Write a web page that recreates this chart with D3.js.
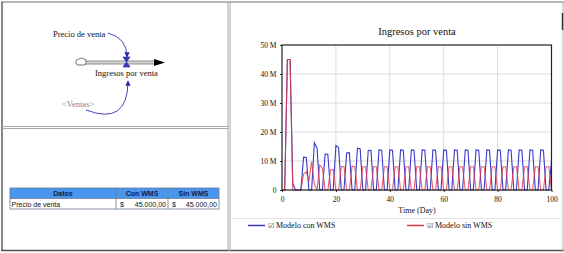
<!DOCTYPE html>
<html><head><meta charset="utf-8">
<script src="https://cdn.jsdelivr.net/npm/d3@7"></script>
<style>body{margin:0;background:#fff}svg{display:block}</style>
</head><body>
<svg id="c" width="564" height="253"></svg>
<script>
const days = d3.range(0, 101);
const conWMS = [0,0,45,45,2.3,0,0,0,11.3,11.2,0,0,16.3,14.4,0,0,12.4,12.3,0,0,
15.3,14.6,0,0,12.8,12.9,0,0,14.4,14.2,0,0,13.6,13.7,0,0,13.8,13.7,0,0,
13.8,13.7,0,0,13.8,13.7,0,0,13.8,13.7,0,0,13.8,13.7,0,0,13.8,13.7,0,0,
13.8,13.7,0,0,13.8,13.7,0,0,13.8,13.7,0,0,13.8,13.7,0,0,13.8,13.7,0,0,
13.8,13.7,0,0,13.8,13.7,0,0,13.8,13.7,0,0,13.8,13.7,0,0,13.8,13.7,0,0,10];
const sinWMS = [0,0,45,45,0,0,0,0,5.5,6.3,3,9.8,2,0,8.6,7.5,0,0,6.9,7,
0,0,8,8.1,0,0,8.2,8,0,0,8,8,0,0,8,8,0,0,8,8,
0,0,8,8,0,0,8,8,0,0,8,8,0,0,8,8,0,0,8,8,
0,0,8,8,0,0,8,8,0,0,8,8,0,0,8,8,0,0,8,8,
0,0,8,8,0,0,8,8,0,0,8,8,0,0,8,8,0,0,8,8,0];
const yTicks = [0,10,20,30,40,50];
const xTicks = [0,20,40,60,80,100];
const tableHeader = ["Datos","Con WMS","Sin WMS"];
const tableRow = ["Precio de venta","45.000,00","45.000,00"];
const seriesNames = ["Modelo con WMS","Modelo sin WMS"];
const seriesColors = ["#3a3ac8","#e8364a"];

const svg = d3.select("#c");
const serif = "'Liberation Serif', 'Times New Roman', serif";
const sans = "'Liberation Sans', Arial, sans-serif";

// frames
svg.append("line").attr("x1",1).attr("x2",564).attr("y1",2).attr("y2",2).attr("stroke","#a0a0a0").attr("stroke-width",1.5);
svg.append("line").attr("x1",2).attr("x2",2).attr("y1",2).attr("y2",251).attr("stroke","#606060").attr("stroke-width",1.5);
svg.append("line").attr("x1",1).attr("x2",564).attr("y1",250.5).attr("y2",250.5).attr("stroke","#505050").attr("stroke-width",1.5);
svg.append("line").attr("x1",563).attr("x2",563).attr("y1",2).attr("y2",251).attr("stroke","#b0b0b0").attr("stroke-width",1);
svg.append("line").attr("x1",562.5).attr("x2",562.5).attr("y1",13).attr("y2",30).attr("stroke","#333").attr("stroke-width",1.5);
[228,230].forEach(x=>svg.append("line").attr("x1",x).attr("x2",x).attr("y1",2).attr("y2",251).attr("stroke","#a8a8a8").attr("stroke-width",1));
[126.5,128.5].forEach(y=>svg.append("line").attr("x1",2).attr("x2",228).attr("y1",y).attr("y2",y).attr("stroke","#a8a8a8").attr("stroke-width",1));

// ---- diagram
const defs = svg.append("defs");
defs.append("marker").attr("id","ah").attr("viewBox","0 0 10 10").attr("refX",9).attr("refY",5)
  .attr("markerWidth",6).attr("markerHeight",6).attr("orient","auto")
  .append("path").attr("d","M0,0 L10,5 L0,10 z").attr("fill","#2828a8");
const dg = svg.append("g");
dg.append("text").attr("x",53).attr("y",37).attr("font-family",serif).attr("font-size",8.5).attr("fill","#111").text("Precio de venta");
dg.append("path").attr("d","M78,65 q-3,-1 -2,-3 q0,-3 3,-3 q2,-2 5,0 q3,0 2,3 q1,3 -2,3 z").attr("fill","#fff").attr("stroke","#555").attr("stroke-width",0.8);
dg.append("rect").attr("x",86).attr("y",61).attr("width",69).attr("height",3).attr("fill","#d8d8d8").attr("stroke","#777").attr("stroke-width",0.8);
dg.append("path").attr("d","M154,59 L165,62.5 L154,66 z").attr("fill","#000");
dg.append("path").attr("d","M123,57 L130,57 L126.5,62 L130,67 L123,67 L126.5,62 z").attr("fill","#3838c0").attr("stroke","#2020a0").attr("stroke-width",0.6);
dg.append("text").attr("x",95).attr("y",76).attr("font-family",serif).attr("font-size",8.5).attr("fill","#111").text("Ingresos por venta");
dg.append("text").attr("x",62).attr("y",107).attr("font-family",serif).attr("font-size",8.5).attr("fill","#8080a0").text("<Ventas>");
dg.append("path").attr("d","M108,33 Q127,38 127,57").attr("fill","none").attr("stroke","#3030b0").attr("stroke-width",0.9).attr("marker-end","url(#ah)");
dg.append("path").attr("d","M86,110 Q128,126 128,81").attr("fill","none").attr("stroke","#3030b0").attr("stroke-width",0.9).attr("marker-end","url(#ah)");

// ---- table
const colX = [10,116,168,219];
const tg = svg.append("g");
tg.append("rect").attr("x",10).attr("y",188).attr("width",209).attr("height",10.5).attr("fill","#4a96ee");
tg.append("rect").attr("x",10).attr("y",198.5).attr("width",209).attr("height",10.5).attr("fill","#fff");
tg.append("rect").attr("x",10).attr("y",188).attr("width",209).attr("height",21).attr("fill","none").attr("stroke","#6a7a90").attr("stroke-width",0.8);
tg.append("line").attr("x1",10).attr("x2",219).attr("y1",198.5).attr("y2",198.5).attr("stroke","#6a7a90").attr("stroke-width",0.8);
[116,168].forEach(x=>tg.append("line").attr("x1",x).attr("x2",x).attr("y1",188).attr("y2",209).attr("stroke","#6a7a90").attr("stroke-width",0.8));
tableHeader.forEach((h,i)=>tg.append("text").attr("x",(colX[i]+colX[i+1])/2).attr("y",196.2).attr("text-anchor","middle")
  .attr("font-family",sans).attr("font-size",7).attr("font-weight","bold").attr("fill","#10204a").text(h));
tg.append("text").attr("x",11.5).attr("y",206.5).attr("font-family",sans).attr("font-size",7).attr("fill","#111").text(tableRow[0]);
[1,2].forEach(i=>{
  tg.append("text").attr("x",colX[i]+4).attr("y",206.5).attr("font-family",sans).attr("font-size",7).attr("fill","#111").text("$");
  tg.append("text").attr("x",colX[i+1]-2).attr("y",206.5).attr("text-anchor","end").attr("font-family",sans).attr("font-size",7).attr("fill","#111").text(tableRow[i]);
});

// ---- chart
const x = d3.scaleLinear().domain([0,100]).range([282,551.5]);
const y = d3.scaleLinear().domain([0,50]).range([190,45]);
const cg = svg.append("g");
cg.append("text").attr("x",417).attr("y",35).attr("text-anchor","middle").attr("font-family",serif).attr("font-size",10.5).attr("fill","#111").text("Ingresos por venta");
xTicks.slice(1,-1).forEach(t=>cg.append("line").attr("x1",x(t)).attr("x2",x(t)).attr("y1",45).attr("y2",190).attr("stroke","#dcdcdc").attr("stroke-width",1));
yTicks.slice(1,-1).forEach(t=>cg.append("line").attr("x1",282).attr("x2",551.5).attr("y1",y(t)).attr("y2",y(t)).attr("stroke","#dcdcdc").attr("stroke-width",1));

const line = d3.line().x((d,i)=>x(days[i])).y(d=>y(d));
cg.append("path").datum(conWMS).attr("d",line).attr("fill","none").attr("stroke",seriesColors[0]).attr("stroke-width",1.1);
cg.append("path").datum(sinWMS).attr("d",line).attr("fill","none").attr("stroke",seriesColors[1]).attr("stroke-width",1.1).attr("stroke-opacity",0.8);

cg.append("rect").attr("x",282).attr("y",45).attr("width",269.5).attr("height",145).attr("fill","none").attr("stroke","#222").attr("stroke-width",1.2);

const yAxis = d3.axisLeft(y).tickValues(yTicks).tickSize(2).tickFormat(d=>d===0?"0":d+" M");
const ya = cg.append("g").attr("transform","translate(282,0)").call(yAxis);
const xAxis = d3.axisBottom(x).tickValues(xTicks).tickSize(2);
const xa = cg.append("g").attr("transform","translate(0,190)").call(xAxis);
[ya,xa].forEach(a=>{a.select(".domain").remove();a.selectAll("line").attr("stroke","#222");
  a.selectAll("text").attr("font-family",serif).attr("font-size",7.5).attr("fill","#111");});
ya.selectAll("text").attr("dx",-0.5);
xa.selectAll("text").attr("dy","0.9em");
cg.append("text").attr("x",417).attr("y",213).attr("text-anchor","middle").attr("font-family",serif).attr("font-size",8).attr("fill","#111").text("Time (Day)");

// legend
cg.append("line").attr("x1",232).attr("x2",560).attr("y1",218.5).attr("y2",218.5).attr("stroke","#e4e4e4");
const lx = [248,407];
seriesNames.forEach((n,i)=>{
  const g = cg.append("g");
  g.append("line").attr("x1",lx[i]).attr("x2",lx[i]+17).attr("y1",225.5).attr("y2",225.5).attr("stroke",seriesColors[i]).attr("stroke-width",1.5);
  g.append("text").attr("x",lx[i]+20).attr("y",228).attr("font-family","'DejaVu Sans', sans-serif").attr("font-size",7).attr("fill","#333").text("\u2611");
  g.append("text").attr("x",lx[i]+28).attr("y",228).attr("font-family",serif).attr("font-size",8).attr("fill","#111").text(n);
});
</script>
</body></html>
